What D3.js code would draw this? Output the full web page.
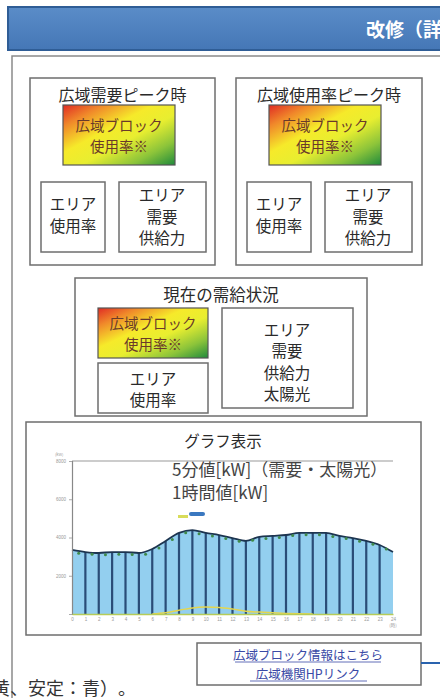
<!DOCTYPE html>
<html>
<head>
<meta charset="utf-8">
<script src="https://cdn.jsdelivr.net/npm/d3@7.9.0/dist/d3.min.js"></script>
<style>
  html, body { margin: 0; padding: 0; background: #fff; }
  svg { display: block; font-family: "Noto Sans CJK JP", "Noto Sans", sans-serif; }
  svg text { text-spacing-trim: space-all; }
</style>
</head>
<body>
<svg id="chart" width="440" height="698"></svg>
<script>
// chart data
const hours = d3.range(0, 25);                      // 0..24 h
const demand = [3350, 3240, 3190, 3240, 3240, 3190, 3400, 3820, 4240, 4390,
                4240, 4130, 3970, 3820, 4030, 4080, 4130, 4240, 4240, 4240,
                4080, 3970, 3820, 3610, 3240];
const hourBarHours = d3.range(1, 24);
const hourBarValues = [3240, 3190, 3240, 3240, 3190, 3400, 3820, 4240, 4390, 4240,
                       4130, 3970, 3820, 4030, 4080, 4130, 4240, 4240, 4240, 4080,
                       3970, 3820, 3610];
const dotHours = [0.5, 1.5, 2.5, 3.5, 4.5, 5.5, 6.5, 7.5, 8.5, 9.5, 10.5, 11.5,
                  12.5, 13.5, 14.5, 15.5, 16.5, 17.5, 18.5, 19.5, 20.5, 21.5, 22.5, 23.5];
const dotValues = [3180, 3120, 3100, 3130, 3110, 3130, 3450, 3900, 4250, 4200, 4080, 3950,
                   3800, 3850, 3950, 4000, 4100, 4150, 4150, 4050, 3950, 3800, 3650, 3400];
const solarHours = [6, 7, 8, 9, 10, 11, 12, 13, 14, 15, 16, 17, 18];
const solarValues = [0, 60, 200, 320, 360, 340, 260, 150, 100, 60, 30, 10, 0];
const yTicks = [0, 2000, 4000, 6000, 8000];
const xTickLabels = d3.range(0, 24).map(String);

// page texts
const panels = [
  { title: "広域需要ピーク時", x: 30, y: 78, w: 185, h: 187 },
  { title: "広域使用率ピーク時", x: 236, y: 78, w: 186, h: 187 }
];

const svg = d3.select("#chart");
const defs = svg.append("defs");

// red -> yellow -> green gradient used by the block boxes
const grad = defs.append("linearGradient")
    .attr("id", "usage")
    .attr("x1", "0").attr("y1", "0").attr("x2", "1").attr("y2", "1");
[["0%", "#e02a24"], ["18%", "#f0882a"], ["40%", "#f6ea2a"], ["58%", "#e8ee30"],
 ["80%", "#8cc43a"], ["100%", "#1f8a3c"]].forEach(([o, c]) =>
    grad.append("stop").attr("offset", o).attr("stop-color", c));

const hdr = defs.append("linearGradient")
    .attr("id", "hdr").attr("x1", "0").attr("y1", "0").attr("x2", "0").attr("y2", "1");
hdr.append("stop").attr("offset", "0%").attr("stop-color", "#5a8cc8");
hdr.append("stop").attr("offset", "100%").attr("stop-color", "#4577b6");

// header bar
svg.append("rect")
    .attr("x", 8).attr("y", 7).attr("width", 440).attr("height", 43)
    .attr("fill", "url(#hdr)").attr("stroke", "#2f5d96").attr("stroke-width", 2);
svg.append("text")
    .attr("x", 366).attr("y", 37)
    .attr("fill", "#fff").attr("font-size", 19).attr("font-weight", "bold")
    .text("改修（詳");

// outer panel lines
svg.append("path")
    .attr("d", "M12,698 V56 H440")
    .attr("fill", "none").attr("stroke", "#8a8a8a").attr("stroke-width", 1.5);

function box(x, y, w, h, sw) {
  return svg.append("rect")
      .attr("x", x).attr("y", y).attr("width", w).attr("height", h)
      .attr("fill", "#fff").attr("stroke", "#6e6e6e").attr("stroke-width", sw || 1.5);
}

function lines(cx, ys, texts, size, color) {
  texts.forEach((t, i) => {
    svg.append("text")
        .attr("x", cx).attr("y", ys[i])
        .attr("text-anchor", "middle")
        .attr("font-size", size).attr("fill", color || "#2a2a2a")
        .text(t);
  });
}

function usageBox(x, y, w, h) {
  svg.append("rect")
      .attr("x", x).attr("y", y).attr("width", w).attr("height", h)
      .attr("fill", "url(#usage)").attr("stroke", "#555").attr("stroke-width", 1.2);
  lines(x + w / 2, [y + h / 2 - 4, y + h / 2 + 17], ["広域ブロック", "使用率※"], 14.5, "#6a3a2a");
}

// two peak panels
panels.forEach((p, i) => {
  box(p.x, p.y, p.w, p.h);
  lines(p.x + p.w / 2, [p.y + 23], [p.title], 16);
  usageBox(p.x + 33, p.y + 27, 112, 60);
  box(p.x + 11, p.y + 104, 64, 70);
  lines(p.x + 43, [p.y + 132, p.y + 154], ["エリア", "使用率"], 15.5);
  box(p.x + 89, p.y + 104, 87, 70);
  lines(p.x + 132, [p.y + 123, p.y + 145, p.y + 166], ["エリア", "需要", "供給力"], 15.5);
});

// current status panel
box(75, 278, 292, 138);
lines(221, [301], ["現在の需給状況"], 16.5);
usageBox(98, 308, 110, 50);
box(98, 363, 110, 50);
lines(153, [385, 406], ["エリア", "使用率"], 15.5);
box(222, 308, 131, 100);
lines(287, [336, 357, 379, 400], ["エリア", "需要", "供給力", "太陽光"], 15.5);

// graph panel
box(26, 422, 395, 213);
lines(223, [447], ["グラフ表示"], 15.5);

const x = d3.scaleLinear().domain([0, 24]).range([72, 393]);
const y = d3.scaleLinear().domain([0, 8000]).range([614, 461]);

const g = svg.append("g");

// top frame line of the plot
g.append("line")
    .attr("x1", x(0)).attr("x2", x(24)).attr("y1", y(8000)).attr("y2", y(8000))
    .attr("stroke", "#9a9a9a").attr("stroke-width", 1.2);

const demandPts = hours.map((h, i) => [h, demand[i]]);
g.append("path")
    .datum(demandPts)
    .attr("fill", "#93cfef")
    .attr("d", d3.area().x(d => x(d[0])).y0(y(0)).y1(d => y(d[1])).curve(d3.curveMonotoneX));

// 1-hour values as thin bars
g.selectAll("rect.hbar")
    .data(hourBarHours.map((h, i) => [h, hourBarValues[i]]))
    .join("rect")
    .attr("class", "hbar")
    .attr("x", d => x(d[0]) - 1.1)
    .attr("width", 2.2)
    .attr("y", d => y(d[1]))
    .attr("height", d => y(0) - y(d[1]))
    .attr("fill", "#2a4d78");

g.append("path")
    .datum(demandPts)
    .attr("fill", "none").attr("stroke", "#1d3550").attr("stroke-width", 1.8)
    .attr("d", d3.line().x(d => x(d[0])).y(d => y(d[1])).curve(d3.curveMonotoneX));

g.selectAll("circle.dot")
    .data(dotHours.map((h, i) => [h, dotValues[i]]))
    .join("circle")
    .attr("class", "dot")
    .attr("cx", d => x(d[0])).attr("cy", d => y(d[1]))
    .attr("r", 1.5).attr("fill", "#3f8a4a");

// solar
g.append("path")
    .datum(solarHours.map((h, i) => [h, solarValues[i]]))
    .attr("fill", "none").attr("stroke", "#e4d64e").attr("stroke-width", 1.5)
    .attr("d", d3.line().x(d => x(d[0])).y(d => y(d[1])).curve(d3.curveMonotoneX));

// axes
const yAxis = g.append("g")
    .attr("transform", `translate(${x(0)},0)`)
    .call(d3.axisLeft(y).tickValues(yTicks).tickSize(3).tickFormat(d => d === 0 ? "" : d));
yAxis.select(".domain").attr("stroke", "#888").attr("stroke-width", 1.2);
yAxis.selectAll(".tick line").attr("stroke", "#aaa");
yAxis.selectAll("text").attr("font-size", 4.5).attr("fill", "#999");

const xAxis = g.append("g")
    .attr("transform", `translate(0,${y(0)})`)
    .call(d3.axisBottom(x).tickValues(d3.range(0, 25)).tickSize(0)
      .tickFormat(d => d < 24 ? xTickLabels[d] : "24"));
xAxis.select(".domain").attr("stroke", "#b6cc58").attr("stroke-width", 1.6);
xAxis.selectAll("text").attr("font-size", 4.5).attr("fill", "#999").attr("dy", "0.9em");

g.append("text").attr("x", 55).attr("y", 456).attr("font-size", 4).attr("fill", "#999").text("(kW)");
g.append("text").attr("x", x(24)).attr("y", 627).attr("text-anchor", "middle")
    .attr("font-size", 4.5).attr("fill", "#999").text("(時)");

// legend swatches
g.append("rect").attr("x", 178).attr("y", 515).attr("width", 10).attr("height", 3).attr("fill", "#d8dc5a");
g.append("rect").attr("x", 189).attr("y", 512).attr("width", 16).attr("height", 4).attr("rx", 2).attr("fill", "#3a78c0");

// annotations
svg.append("text").attr("x", 172).attr("y", 476).attr("font-size", 17).attr("fill", "#444")
    .text("5分値[kW]（需要・太陽光）");
svg.append("text").attr("x", 172).attr("y", 499).attr("font-size", 17).attr("fill", "#444")
    .text("1時間値[kW]");

// link box
box(197, 643, 224, 42);
lines(308, [660, 679], ["広域ブロック情報はこちら", "広域機関HPリンク"], 12.5, "#3a4aa6");
[[235, 381, 662], [250, 367, 681]].forEach(([a, b, yy]) =>
  svg.append("line").attr("x1", a).attr("x2", b).attr("y1", yy).attr("y2", yy)
     .attr("stroke", "#3a4aa6").attr("stroke-width", 0.8));
svg.append("line").attr("x1", 421).attr("x2", 440).attr("y1", 663).attr("y2", 663)
    .attr("stroke", "#2a63ae").attr("stroke-width", 2);

// cut-off sentence at the bottom
svg.append("text").attr("x", -8).attr("y", 695).attr("font-size", 18).attr("fill", "#333")
    .text("黄、安定：青）。");
</script>
</body>
</html>
